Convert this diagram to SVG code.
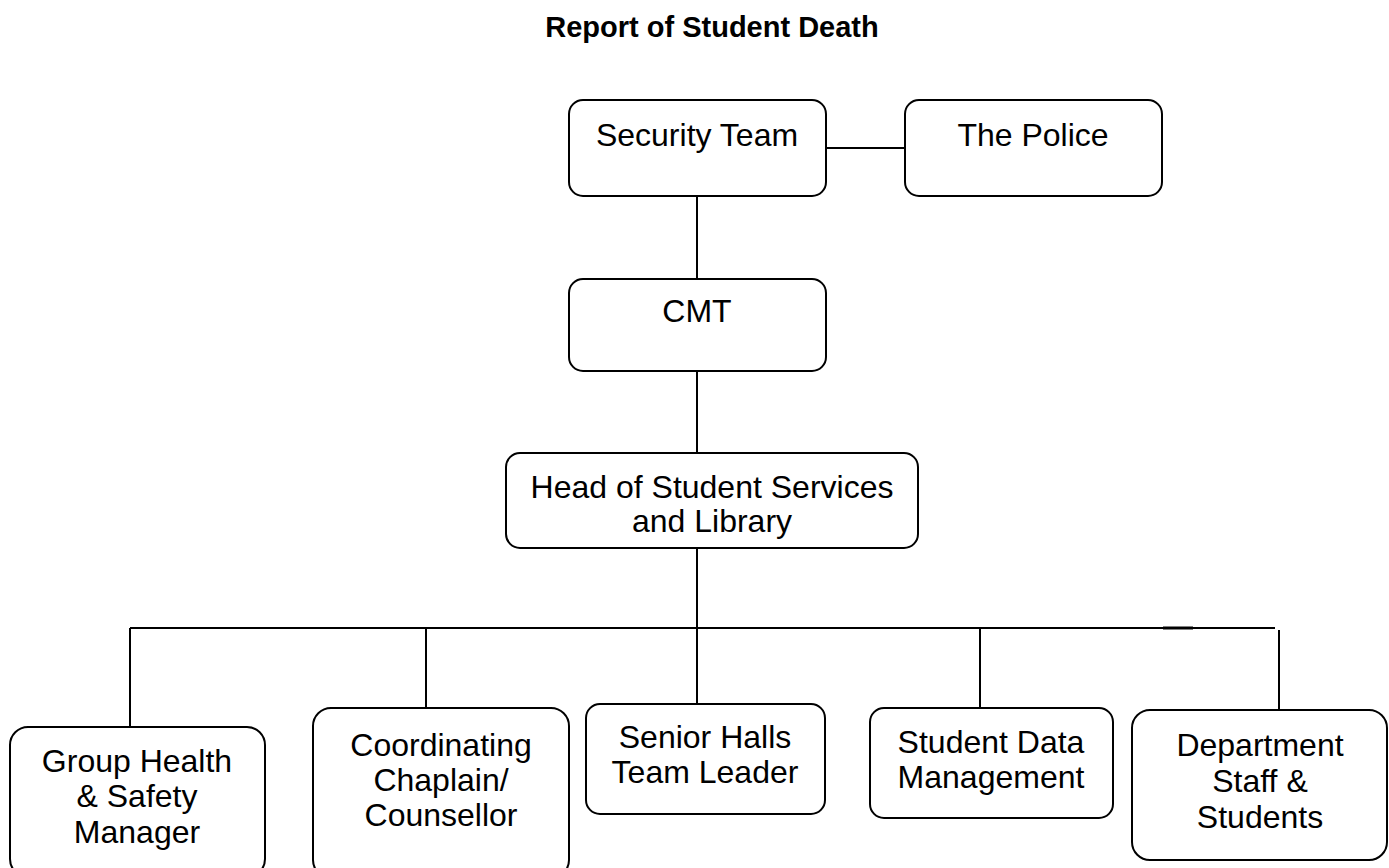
<svg xmlns="http://www.w3.org/2000/svg" width="1389" height="868" viewBox="0 0 1389 868">
<style>
.box{fill:#fff;stroke:#000;stroke-width:2}
.lbl{font-family:"Liberation Sans",Arial,sans-serif;font-size:32px;fill:#000;text-anchor:middle}
.title{font-family:"Liberation Sans",Arial,sans-serif;font-size:29px;font-weight:bold;fill:#000;text-anchor:middle}
.conn line{stroke:#000;stroke-width:2}
</style>
<rect width="1389" height="868" fill="#fff"/>
<text class="title" x="712" y="37">Report of Student Death</text>
<g id="connectors" class="conn">
<line x1="826" y1="148" x2="905" y2="148"/>
<line x1="697" y1="196" x2="697" y2="279"/>
<line x1="697" y1="371" x2="697" y2="453"/>
<line x1="697" y1="548" x2="697" y2="704"/>
<line x1="130" y1="628" x2="1275" y2="628"/>
<line x1="1163" y1="628" x2="1193" y2="628" style="stroke-width:3"/>
<line x1="130" y1="628" x2="130" y2="727"/>
<line x1="426" y1="628" x2="426" y2="708"/>
<line x1="980" y1="628" x2="980" y2="708"/>
<line x1="1279" y1="630" x2="1279" y2="711"/>
</g>
<g id="security">
<rect class="box" x="569" y="100" width="257" height="96" rx="14"/>
<text class="lbl" x="697" y="146">Security Team</text>
</g>
<g id="police">
<rect class="box" x="905" y="100" width="257" height="96" rx="14"/>
<text class="lbl" x="1033" y="146">The Police</text>
</g>
<g id="cmt">
<rect class="box" x="569" y="279" width="257" height="92" rx="14"/>
<text class="lbl" x="697" y="322">CMT</text>
</g>
<g id="head">
<rect class="box" x="506" y="453" width="412" height="95" rx="14"/>
<text class="lbl" x="712" y="498">Head of Student Services</text>
<text class="lbl" x="712" y="532">and Library</text>
</g>
<g id="health">
<rect class="box" x="10" y="727" width="255" height="150" rx="18"/>
<text class="lbl" x="137" y="772">Group Health</text>
<text class="lbl" x="137" y="807">&amp; Safety</text>
<text class="lbl" x="137" y="843">Manager</text>
</g>
<g id="chaplain">
<rect class="box" x="313" y="708" width="256" height="170" rx="18"/>
<text class="lbl" x="441" y="756">Coordinating</text>
<text class="lbl" x="441" y="791">Chaplain/</text>
<text class="lbl" x="441" y="826">Counsellor</text>
</g>
<g id="halls">
<rect class="box" x="586" y="704" width="239" height="110" rx="14"/>
<text class="lbl" x="705" y="748">Senior Halls</text>
<text class="lbl" x="705" y="783">Team Leader</text>
</g>
<g id="data">
<rect class="box" x="870" y="708" width="243" height="110" rx="14"/>
<text class="lbl" x="991" y="753">Student Data</text>
<text class="lbl" x="991" y="788">Management</text>
</g>
<g id="dept">
<rect class="box" x="1132" y="710" width="255" height="150" rx="18"/>
<text class="lbl" x="1260" y="756">Department</text>
<text class="lbl" x="1260" y="792">Staff &amp;</text>
<text class="lbl" x="1260" y="828">Students</text>
</g>
</svg>
